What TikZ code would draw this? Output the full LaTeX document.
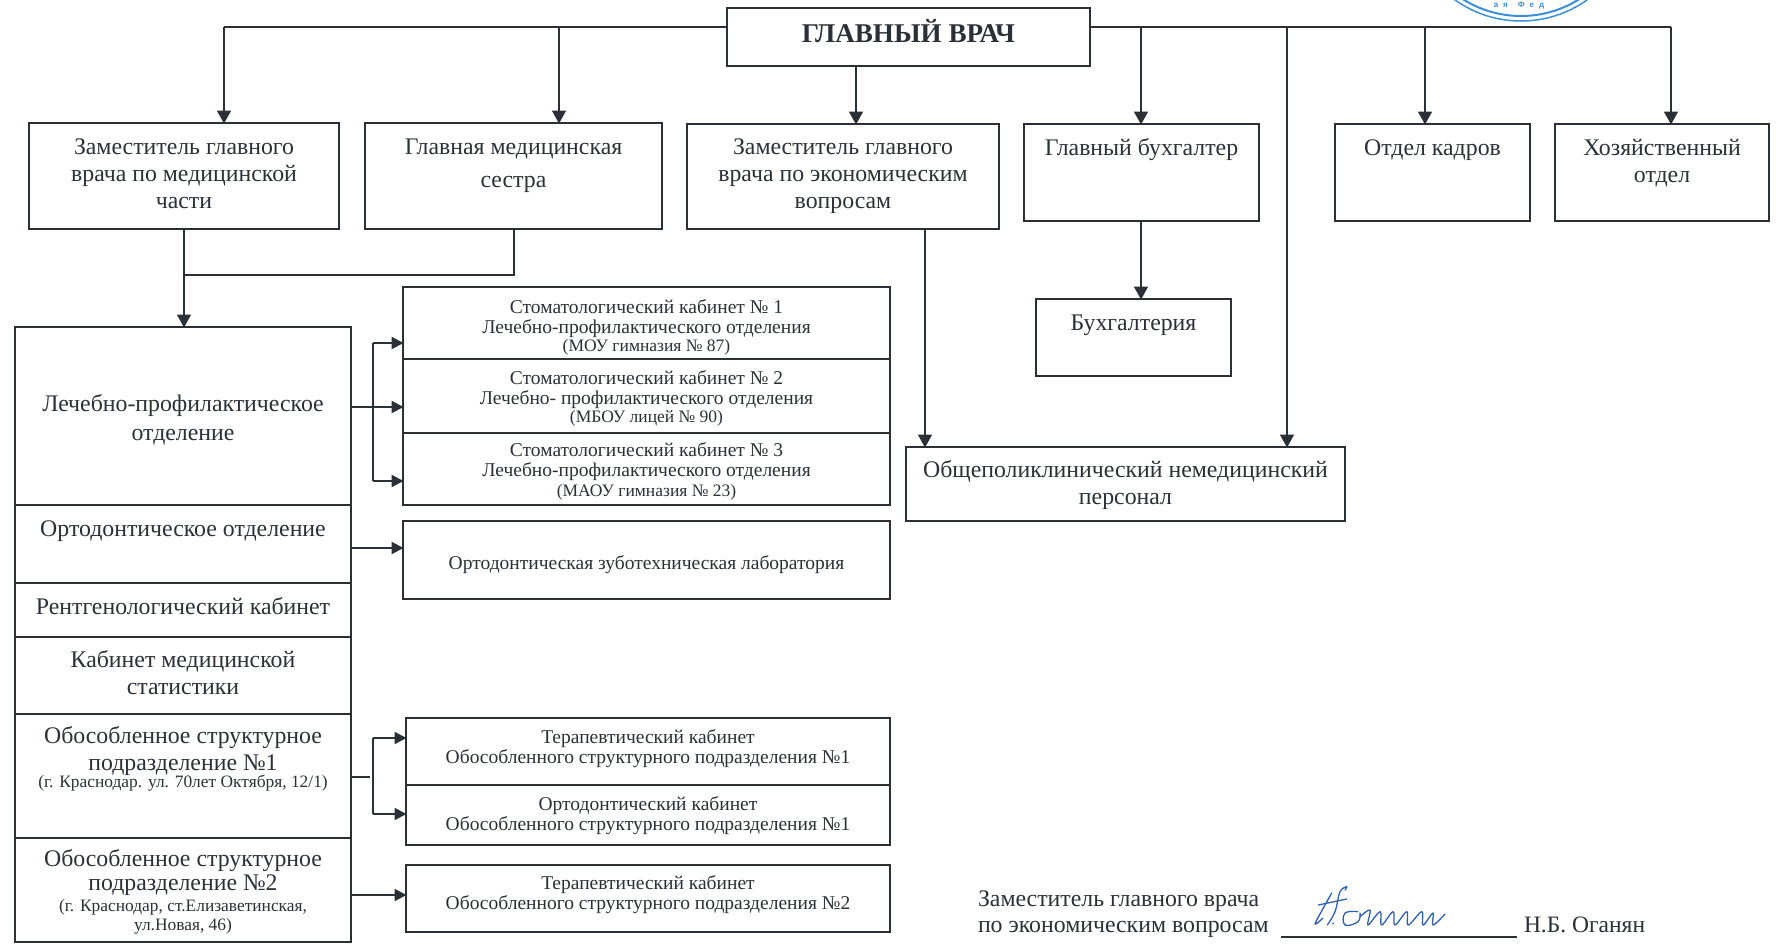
\documentclass[tikz,border=0pt]{standalone}
\usepackage{fontspec}
\setmainfont{Liberation Serif}
\newfontfamily\stampfont{Liberation Sans}
\usetikzlibrary{arrows.meta}
\definecolor{ink}{HTML}{2B3036}
\definecolor{stampblue}{HTML}{3C8FD6}
\definecolor{penblue}{HTML}{2F5FB0}
\newcommand\fbig{\fontsize{23.8}{27}\selectfont}
\newcommand\fmid{\fontsize{19.5}{20}\selectfont}
\newcommand\fsm{\fontsize{17.4}{19}\selectfont}
\newcommand\bx[8][\fbig]{%
  \node[boxn,minimum width={(#5-#3)*1pt},minimum height={(#6-#4)*1pt}] (#2)
    at ({(#3+#5)/2},{(#4+#6)/2}) {#1\raisebox{\dimexpr #7pt-0.33em\relax}[0pt][0pt]{\begin{tabular}{@{}c@{}}#8\end{tabular}}};}
\tikzset{
  x=1pt,y=-1pt,
  boxn/.style={draw=ink,line width=1.8pt,inner sep=0pt,outer sep=0pt,text=ink,anchor=center},
  conn/.style={draw=ink,line width=1.7pt},
  arr/.style={conn,-{Triangle[length=13pt,width=14pt]},shorten >=-0.5pt},
  harr/.style={draw=ink,line width=2.2pt,-{Triangle[length=12pt,width=12pt]},shorten >=-0.5pt},
  plain/.style={inner sep=0pt,outer sep=0pt,text=ink},
}
\begin{document}
\begin{tikzpicture}
\useasboundingbox (0,0) rectangle (1776,946);
% stamp
\begin{scope}
\clip (1420,0) rectangle (1620,30);
\draw[stampblue,line width=1.5pt] (1521,-93) circle (114);
\draw[stampblue,line width=2pt] (1521,-93) circle (109);
\end{scope}
\node[text=stampblue,font=\stampfont\bfseries\fontsize{8}{8}\selectfont,inner sep=0pt] (stamptext) at (1519,6) {а\hspace{5pt}я\hspace{10pt}Ф\hspace{5pt}е\hspace{5pt}д};
% main boxes
\bx[\fontsize{27.1}{29}\bfseries\selectfont]{chief}{727}{8}{1090}{66}{4.5}{ГЛАВНЫЙ ВРАЧ}
\bx{zammed}{29}{123}{339}{229}{2}{Заместитель главного\\врача по медицинской\\части}
\bx{sestra}{365}{123}{662}{229}{12.5}{Главная медицинская\\[6pt]сестра}
\bx{zamecon}{687}{124}{999}{229}{2}{Заместитель главного\\врача по экономическим\\вопросам}
\bx{buh}{1024}{124}{1259}{221}{24.5}{Главный бухгалтер}
\bx{kadry}{1335}{124}{1530}{221}{24.5}{Отдел кадров}
\bx{hoz}{1555}{124}{1769}{221}{10.5}{Хозяйственный\\отдел}
\bx{buhg}{1036}{299}{1231}{376}{14}{Бухгалтерия}
\bx{obsh}{906}{447}{1345}{521}{0}{Общеполиклинический немедицинский\\персонал}
% left column
\bx{lpo}{15}{327}{351}{505}{-3}{Лечебно-профилактическое\\[2pt]отделение}
\bx{orto}{15}{505}{351}{583}{14.6}{Ортодонтическое отделение}
\bx{rentgen}{15}{583}{351}{637}{2.5}{Рентгенологический кабинет}
\bx{stat}{15}{637}{351}{714}{2}{Кабинет медицинской\\статистики}
\bx{osp}{15}{714}{351}{838}{17.7}{Обособленное структурное\\подразделение №1\\[-10pt]\fsm (г. Краснодар. ул. 70лет Октября, 12/1)}
\bx{ospb}{15}{838}{351}{942}{-1}{Обособленное структурное\\[-3pt]подразделение №2\\[-6pt]\fsm (г. Краснодар, ст.Елизаветинская,\\[-8pt]\fsm ул.Новая, 46)}
% right column
\bx[\fmid]{st1}{403}{287}{890}{359}{-3.9}{Стоматологический кабинет № 1\\Лечебно-профилактического отделения\\[-2pt]\fontsize{17.5}{19}\selectfont (МОУ гимназия № 87)}
\bx[\fmid]{st2}{403}{359}{890}{433}{-2.7}{Стоматологический кабинет № 2\\Лечебно- профилактического отделения\\[-2pt]\fontsize{17.5}{19}\selectfont (МБОУ лицей № 90)}
\bx[\fmid]{st3}{403}{433}{890}{505}{-2.4}{Стоматологический кабинет № 3\\Лечебно-профилактического отделения\\\fontsize{17.5}{19}\selectfont (МАОУ гимназия № 23)}
\bx[\fmid]{lab}{403}{521}{890}{599}{-4}{Ортодонтическая зуботехническая лаборатория}
\bx[\fmid]{ter}{406}{718}{890}{785}{3.5}{Терапевтический кабинет\\Обособленного структурного подразделения №1}
\bx[\fmid]{ortc}{406}{785}{890}{845}{0}{Ортодонтический кабинет\\Обособленного структурного подразделения №1}
\bx[\fmid]{terb}{406}{865}{890}{932}{4.5}{Терапевтический кабинет\\Обособленного структурного подразделения №2}
% connectors from chief
\coordinate (cl) at (chief.west |- 0,27);
\coordinate (cr) at (chief.east |- 0,27);
\draw[conn] (cl) -- (224,27) coordinate (c1);
\draw[arr] (c1) -- (c1 |- zammed.north);
\draw[arr] (559,27) coordinate (c2) -- (c2 |- sestra.north);
\draw[arr] (856,66) coordinate (c3) -- (c3 |- zamecon.north);
\draw[conn] (cr) -- (1671,27) coordinate (c7);
\draw[arr] (1141,27) coordinate (c4) -- (c4 |- buh.north);
\draw[arr] (1287,27) coordinate (c5) -- (c5 |- obsh.north);
\draw[arr] (1425,27) coordinate (c6) -- (c6 |- kadry.north);
\draw[arr] (c7) -- (c7 |- hoz.north);
% merges
\coordinate (m1) at (184,229);
\coordinate (m2) at (514,229);
\draw[arr] (m1) -- (m1 |- lpo.north);
\draw[conn] (m2) -- (514,275) -- (184,275);
\draw[arr] (1141,221) coordinate (b1) -- (b1 |- buhg.north);
\draw[arr] (925,229) coordinate (e1) -- (e1 |- obsh.north);
% LPO branches
\draw[harr] (lpo.east |- 0,407) -- (st2.west |- 0,407);
\draw[conn] (373,343) -- (373,481);
\draw[harr] (373,343) -- (st1.west |- 0,343);
\draw[harr] (373,481) -- (st3.west |- 0,481);
\draw[harr] (orto.east |- 0,548) -- (lab.west |- 0,548);
% OSP1 branches
\draw[conn] (osp.east |- 0,777) -- (370,777);
\draw[conn] (373,738) -- (373,814);
\draw[harr] (373,738) -- (ter.west |- 0,738);
\draw[harr] (373,814) -- (ortc.west |- 0,814);
\draw[harr] (ospb.east |- 0,895) -- (terb.west |- 0,895);
% signature block
\node[plain,anchor=base west,font=\fontsize{23.8}{27}\selectfont] (sig1) at (978,906) {Заместитель главного врача};
\node[plain,anchor=base west,font=\fontsize{23.8}{27}\selectfont] (sig2) at (978,932) {по экономическим вопросам};
\node[plain,anchor=base west,font=\fontsize{23.5}{27}\selectfont] (sig3) at (1524,932) {Н.Б. Оганян};
\draw[ink,line width=1.2pt] (1281,937) -- (1517,937);
\begin{scope}[penblue,line width=1.3pt,line cap=round,line join=round]
\draw plot[smooth,tension=0.6] coordinates {(1331.7,893) (1325,905) (1315,924) (1323,918)};
\draw plot[smooth,tension=0.6] coordinates {(1345,890) (1346.7,886.7) (1340,891.7) (1335,911.7) (1327.3,925)};
\draw (1318.3,905) -- (1346.7,899);
\fill (1333,923.5) circle (1);
\draw plot[smooth,tension=0.7] coordinates {(1358,911.7) (1345,913) (1345,925) (1358,921.7) (1360,913)};
\draw plot[smooth,tension=0.6] coordinates {(1360,916.7) (1370,910) (1368,925) (1380,911.7) (1381.7,925) (1393,911.7) (1395,925) (1406.7,911.7) (1408.3,925) (1421.7,911.7) (1423,925) (1433,913) (1433,925) (1445,914)};
\end{scope}
\end{tikzpicture}
\end{document}
